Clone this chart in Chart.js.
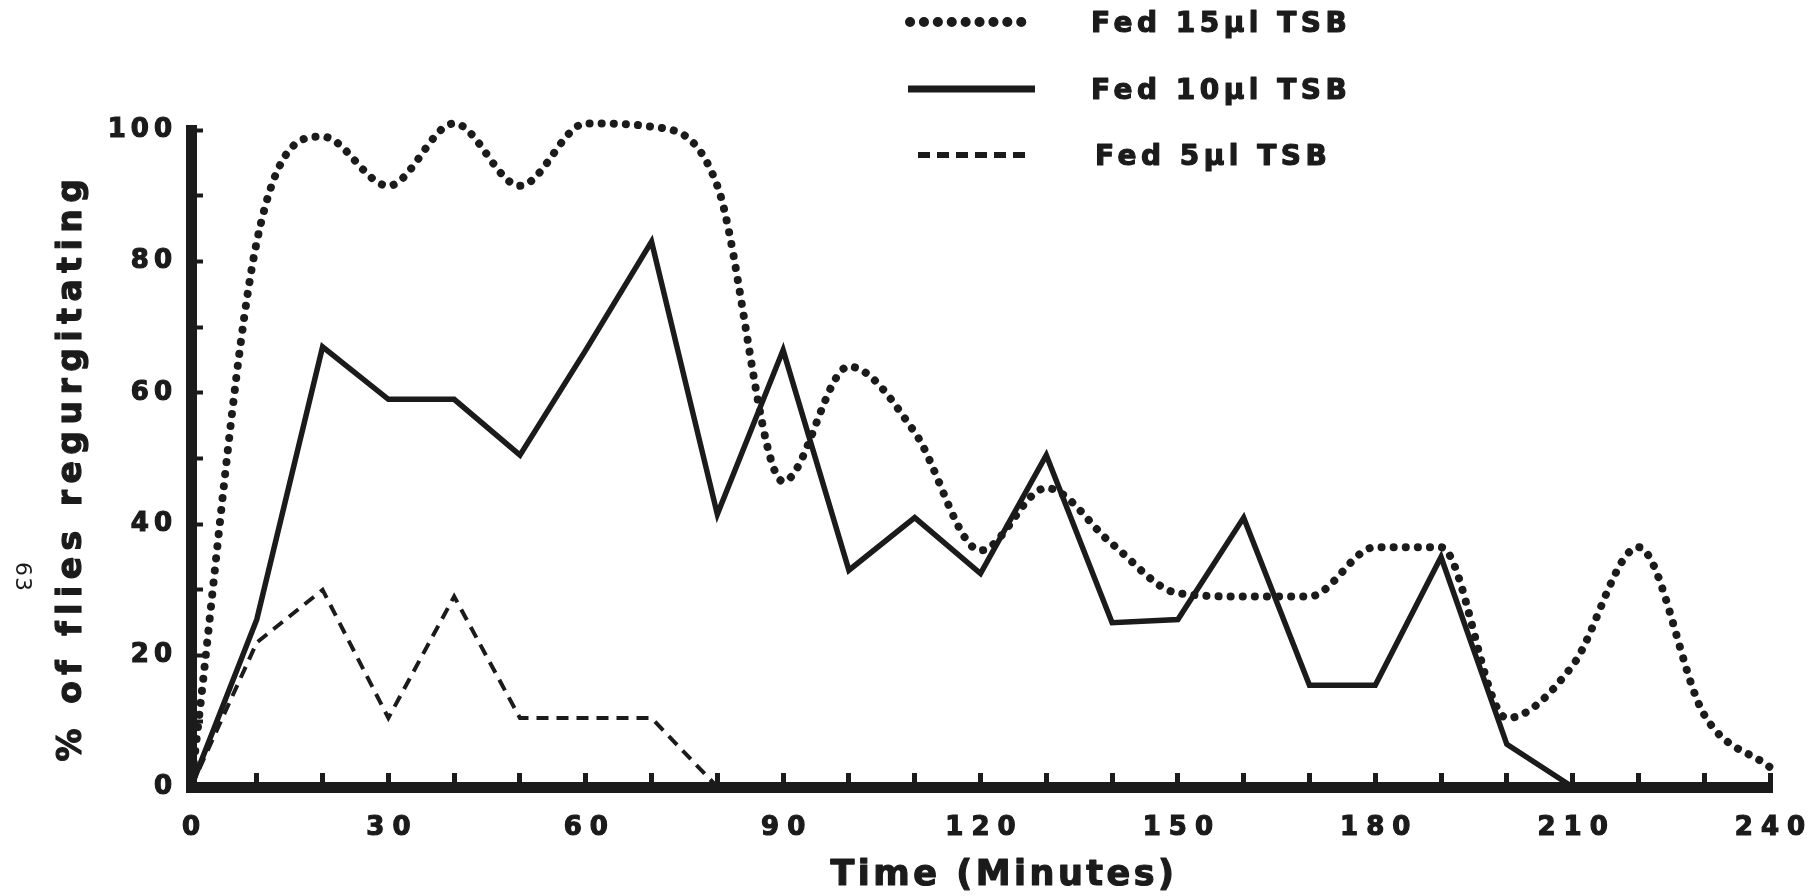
<!DOCTYPE html>
<html>
<head>
<meta charset="utf-8">
<title>% of flies regurgitating</title>
<script src="https://cdn.jsdelivr.net/npm/chart.js@4.4.1/dist/chart.umd.min.js"></script>
<style>
    html, body { margin: 0; padding: 0; background: #fff; }
    #wrap { width: 1813px; height: 896px; position: relative; }
</style>
</head>
<body>
<div id="wrap"><canvas id="regurgChart"></canvas></div>
<script>
// sampling times (minutes) and % of flies regurgitating
const minutes = [0, 10, 20, 30, 40, 50, 60, 70, 80, 90, 100, 110, 120, 130, 140, 150, 160, 170, 180, 190, 200, 210, 220, 230, 240];
const fed15 = [0, 83, 99, 91.5, 101, 91.5, 101, 100.5, 91.5, 46.5, 64, 54, 36, 45.5, 37, 29.5, 29, 29, 36.5, 36.5, 10.5, 18.5, 36.5, 11, 3];
const fed10 = [0, 25.5, 67, 59, 59, 50.5, 66.5, 83, 41.5, 66.5, 33, 41, 32.5, 50.5, 25, 25.5, 41, 15.5, 15.5, 35, 6.5, 0];
const fed5 = [0, 22, 30, 10.5, 29, 10.5, 10.5, 10.5, 0];

const seriesNames = ['Fed 15µl TSB', 'Fed 10µl TSB', 'Fed 5µl TSB'];
const xTickLabels = ['0', '30', '60', '90', '120', '150', '180', '210', '240'];
const yTickLabels = ['0', '20', '40', '60', '80', '100'];

const ink = '#1b1b1b';
const boldFont = '"DejaVu Sans", "Liberation Sans", sans-serif';

function toPoints(values) {
    return minutes.map(function(m, i) {
        return { x: m, y: i < values.length ? values[i] : null };
    });
}

// heavy lettering of the original: fill plus a thin stroke
function heavyText(ctx, text, x, y) {
    ctx.fillText(text, x, y);
    ctx.strokeText(text, x, y);
}

// titles, legend and the page number sit outside the chart area
const paperText = {
    id: 'paperText',
    beforeDraw: function(chart) {
        chart.ctx.letterSpacing = '8px';    // x tick labels
    },
    afterDatasetsDraw: function(chart) {
        chart.ctx.letterSpacing = '5px';    // y tick labels (drawn on z 1)
    },
    afterDraw: function(chart) {
        const ctx = chart.ctx;
        ctx.save();
        ctx.fillStyle = ink;
        ctx.strokeStyle = ink;
        ctx.lineWidth = 1.2;
        ctx.lineJoin = 'round';
        ctx.textBaseline = 'middle';

        // x title
        ctx.letterSpacing = '3.5px';
        ctx.textAlign = 'center';
        ctx.font = 'bold 35px ' + boldFont;
        heavyText(ctx, 'Time (Minutes)', 1004, 876);

        // y title
        ctx.save();
        ctx.translate(72, 467);
        ctx.rotate(-Math.PI / 2);
        ctx.letterSpacing = '6.5px';
        ctx.font = 'bold 33px ' + boldFont;
        heavyText(ctx, '% of flies regurgitating', 0, 0);
        ctx.restore();

        // page number in the margin
        ctx.save();
        ctx.translate(22, 577);
        ctx.rotate(Math.PI / 2);
        ctx.letterSpacing = '1px';
        ctx.font = '22px ' + boldFont;
        ctx.fillText('63', 0, 0);
        ctx.restore();

        // legend
        const rows = [
            { x1: 910, x2: 1035, y: 22, textX: 1091 },
            { x1: 908, x2: 1035, y: 89, textX: 1091 },
            { x1: 918, x2: 1032, y: 155, textX: 1095 }
        ];
        chart.data.datasets.forEach(function(ds, i) {
            const row = rows[i];
            ctx.save();
            ctx.lineWidth = ds.legendWidth || ds.borderWidth;
            ctx.lineCap = ds.borderCapStyle || 'butt';
            ctx.setLineDash(ds.legendDash || ds.borderDash || []);
            ctx.beginPath();
            ctx.moveTo(row.x1, row.y);
            ctx.lineTo(row.x2, row.y);
            ctx.stroke();
            ctx.restore();

            ctx.textAlign = 'left';
            ctx.textBaseline = 'alphabetic';
            ctx.letterSpacing = '4.5px';
            ctx.font = 'bold 28px ' + boldFont;
            heavyText(ctx, ds.label, row.textX, row.y + 10);
        });

        ctx.restore();
        ctx.letterSpacing = '0px';
    }
};

function initRegurgChart() {
    const canvas = document.getElementById('regurgChart');
    if (!canvas || typeof Chart === 'undefined') return;

    const data = {
        datasets: [{
            label: seriesNames[0],
            data: toPoints(fed15),
            borderColor: ink,
            borderWidth: 8,
            borderDash: [0.1, 12],
            legendWidth: 10,
            legendDash: [0.1, 13.8],
            borderCapStyle: 'round',
            cubicInterpolationMode: 'monotone'
        }, {
            label: seriesNames[1],
            data: toPoints(fed10),
            borderColor: ink,
            borderWidth: 5.5,
            legendWidth: 7,
            borderJoinStyle: 'miter',
            tension: 0
        }, {
            label: seriesNames[2],
            data: toPoints(fed5),
            borderColor: ink,
            borderWidth: 4,
            borderDash: [12, 8],
            legendWidth: 6,
            legendDash: [12, 7],
            tension: 0
        }]
    };

    const tickFont = { family: boldFont, weight: 'bold', size: 26 };

    const config = {
        type: 'line',
        data: data,
        plugins: [paperText],
        options: {
            responsive: true,
            maintainAspectRatio: false,
            animation: false,
            layout: { padding: { top: 130, right: 43, bottom: 0, left: 0 } },
            elements: {
                point: { radius: 0, hoverRadius: 0 },
                line: { fill: false }
            },
            datasets: { line: { clip: false, spanGaps: false } },
            plugins: {
                legend: { display: false },
                tooltip: { enabled: false }
            },
            scales: {
                x: {
                    type: 'linear',
                    min: 0,
                    max: 240,
                    afterFit: function(scale) {
                        scale.height = 109;
                        // label overflow is covered by the layout padding
                        scale.paddingLeft = 0;
                        scale.paddingRight = 0;
                    },
                    ticks: {
                        stepSize: 10,
                        autoSkip: false,
                        maxRotation: 0,
                        padding: 40,
                        labelOffset: 4,
                        color: ink,
                        textStrokeColor: ink,
                        textStrokeWidth: 1.2,
                        font: tickFont,
                        callback: function(value) {
                            const text = String(value);
                            return xTickLabels.includes(text) ? text : '';
                        }
                    },
                    grid: {
                        display: true,
                        drawOnChartArea: false,
                        drawTicks: true,
                        tickLength: -14,
                        tickWidth: 5,
                        tickColor: ink
                    },
                    border: { display: true, width: 11, color: ink, z: 1 }
                },
                y: {
                    type: 'linear',
                    min: 0,
                    max: 100,
                    afterFit: function(scale) { scale.width = 191; },
                    ticks: {
                        stepSize: 10,
                        autoSkip: false,
                        padding: 26,
                        z: 1,
                        color: ink,
                        textStrokeColor: ink,
                        textStrokeWidth: 1.2,
                        font: tickFont,
                        callback: function(value) {
                            const text = String(value);
                            return yTickLabels.includes(text) ? text : '';
                        }
                    },
                    grid: {
                        display: true,
                        drawOnChartArea: false,
                        drawTicks: true,
                        tickLength: -12,
                        tickWidth: 4,
                        tickColor: ink
                    },
                    border: { display: true, width: 11, color: ink, z: 1 }
                }
            }
        }
    };

    window.regurgChartInstance = new Chart(canvas, config);
}

document.addEventListener('DOMContentLoaded', initRegurgChart);
</script>
</body>
</html>
